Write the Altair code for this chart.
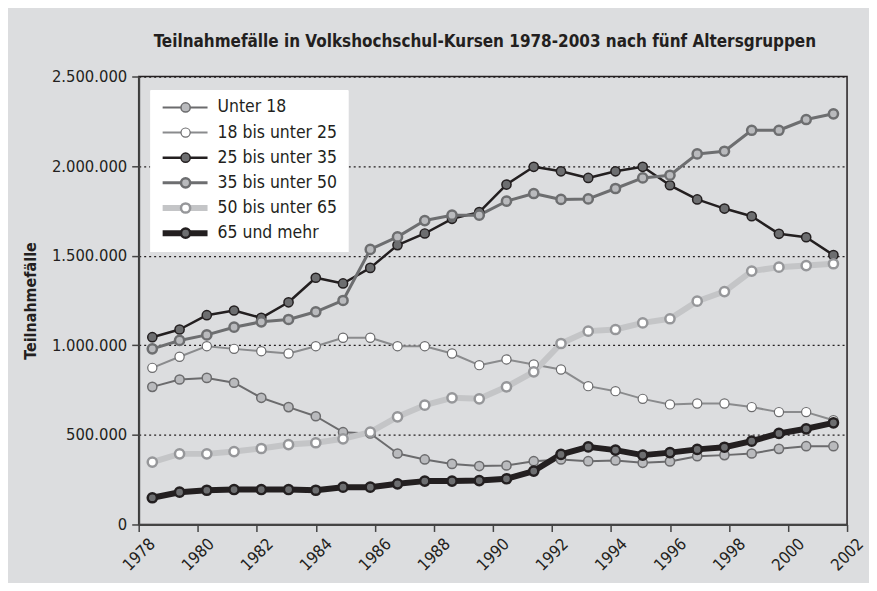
import altair as alt
import pandas as pd

# ---------------- data ----------------
years = list(range(1978, 2004))
series_names = ["Unter 18", "18 bis unter 25", "25 bis unter 35",
                "35 bis unter 50", "50 bis unter 65", "65 und mehr"]

unter_18 = [768000, 809000, 818000, 791000, 707000, 655000, 604000, 515000, 508000,
            396000, 363000, 338000, 326000, 329000, 353000, 363000, 353000, 357000,
            344000, 352000, 381000, 387000, 396000, 422000, 437000, 437000]
bis_25 = [874000, 936000, 995000, 980000, 967000, 954000, 995000, 1042000, 1042000,
          995000, 995000, 954000, 889000, 921000, 893000, 865000, 772000, 744000,
          701000, 670000, 675000, 675000, 655000, 627000, 627000, 582000]
bis_35 = [1045000, 1088000, 1168000, 1194000, 1153000, 1240000, 1377000, 1345000,
          1432000, 1559000, 1624000, 1706000, 1743000, 1897000, 1996000, 1971000,
          1934000, 1971000, 1996000, 1893000, 1814000, 1763000, 1720000, 1622000,
          1603000, 1503000]
bis_50 = [980000, 1027000, 1058000, 1101000, 1131000, 1144000, 1187000, 1250000,
          1535000, 1605000, 1696000, 1726000, 1726000, 1804000, 1847000, 1814000,
          1817000, 1875000, 1934000, 1949000, 2068000, 2083000, 2200000, 2200000,
          2260000, 2292000]
bis_65 = [348000, 394000, 394000, 407000, 424000, 446000, 456000, 478000, 515000,
          601000, 666000, 707000, 701000, 768000, 852000, 1010000, 1079000, 1088000,
          1125000, 1148000, 1246000, 1300000, 1414000, 1436000, 1445000, 1455000]
ab_65 = [149000, 180000, 191000, 195000, 195000, 195000, 191000, 208000, 208000,
         227000, 242000, 242000, 245000, 255000, 298000, 391000, 433000, 415000,
         387000, 401000, 419000, 431000, 465000, 508000, 534000, 567000]

series_values = [unter_18, bis_25, bis_35, bis_50, bis_65, ab_65]
x_tick_labels = list(range(1978, 2003, 2))
y_tick_values = [0, 500000, 1000000, 1500000, 2000000, 2500000]

title_text = "Teilnahmefälle in Volkshochschul-Kursen 1978-2003 nach fünf Altersgruppen"
y_title = "Teilnahmefälle"

# ---------------- styles ----------------
FONT = "Liberation Sans Narrow, DejaVu Sans Condensed, Arial Narrow, sans-serif"
INK = "#231f20"
BG = "#dcdddf"
line_colors = ["#6b6b6d", "#8a8b8d", INK, "#6d6e70", "#c4c5c7", INK]
line_widths = [2, 2, 2.5, 3, 6, 6]
pt_fill = ["#b9babd", "#ffffff", "#6d6e70", "#b9babd", "#ffffff", "#6d6e70"]
pt_stroke = ["#6b6b6d", "#6b6b6d", INK, "#6d6e70", "#96979a", INK]
pt_width = [1.5, 1.2, 1.5, 2.5, 2.5, 2.5]

df = pd.DataFrame(
    [{"Jahr": y, "Gruppe": n, "Wert": v}
     for n, arr in zip(series_names, series_values)
     for y, v in zip(years, arr)]
)
leg_df = pd.DataFrame({"Gruppe": series_names})
tick_df = pd.DataFrame({"Jahr": x_tick_labels})

def sc(rng):
    return alt.Scale(type="ordinal", domain=series_names, range=rng)

x_data = alt.X("Jahr:Q",
               scale=alt.Scale(domain=[years[0] - 0.5, years[-1] + 0.5], nice=False, zero=False),
               axis=None)
y_data = alt.Y("Wert:Q",
               scale=alt.Scale(domain=[y_tick_values[0], y_tick_values[-1]], nice=False),
               axis=alt.Axis(values=y_tick_values,
                             labelExpr="replace(format(datum.value, ','), regexp(',', 'g'), '.')",
                             title=y_title, grid=True, gridDash=[2, 3], gridColor=INK,
                             gridWidth=1.3, tickSize=7, tickColor="#444", tickWidth=1.5,
                             domainColor="#444", domainWidth=2,
                             labelFont=FONT, labelFontSize=16.5, labelColor=INK, labelPadding=5,
                             titleFont=FONT, titleFontSize=16, titleFontWeight="bold",
                             titleColor=INK, titlePadding=13))

base = alt.Chart(df)
lines = base.mark_line(strokeJoin="round").encode(
    x=x_data, y=y_data,
    stroke=alt.Stroke("Gruppe:N", scale=sc(line_colors), legend=None),
    strokeWidth=alt.StrokeWidth("Gruppe:N", scale=sc(line_widths), legend=None),
)
points = base.mark_point(shape="circle", size=85, opacity=1, fillOpacity=1).encode(
    x=x_data, y=y_data,
    fill=alt.Fill("Gruppe:N", scale=sc(pt_fill), legend=None),
    stroke=alt.Stroke("Gruppe:N", scale=sc(pt_stroke), legend=None),
    strokeWidth=alt.StrokeWidth("Gruppe:N", scale=sc(pt_width), legend=None),
)
main = alt.layer(lines, points).resolve_scale(stroke="independent", strokeWidth="independent")

xaxis = alt.Chart(tick_df).mark_point(opacity=0).encode(
    x=alt.X("Jahr:Q",
            scale=alt.Scale(domain=[x_tick_labels[0], x_tick_labels[-1]], nice=False, zero=False),
            axis=alt.Axis(values=x_tick_labels, format="d", labelAngle=-45, labelAlign="center",
                          labelBaseline="middle", labelPadding=23, tickSize=7, tickColor="#444",
                          tickWidth=1.5, domainColor="#444", domainWidth=2,
                          labelFont=FONT, labelFontSize=16.5, labelColor=INK, title=None,
                          grid=False, labelOverlap=False, labelFlush=False))
)

leg_y = alt.Y("Gruppe:N", scale=alt.Scale(type="point", domain=series_names, range=[31, 157], padding=0),
              axis=None)
leg_bg = alt.Chart(leg_df).mark_rect(fill="white").encode(
    x=alt.value(12), x2=alt.value(210), y=alt.value(14), y2=alt.value(176))
leg_lines = alt.Chart(leg_df).mark_rule().encode(
    x=alt.value(24), x2=alt.value(69), y=leg_y,
    stroke=alt.Stroke("Gruppe:N", scale=sc(line_colors), legend=None),
    strokeWidth=alt.StrokeWidth("Gruppe:N", scale=sc(line_widths), legend=None),
)
leg_points = alt.Chart(leg_df).mark_point(shape="circle", size=85, opacity=1, fillOpacity=1).encode(
    x=alt.value(47), y=leg_y,
    fill=alt.Fill("Gruppe:N", scale=sc(pt_fill), legend=None),
    stroke=alt.Stroke("Gruppe:N", scale=sc(pt_stroke), legend=None),
    strokeWidth=alt.StrokeWidth("Gruppe:N", scale=sc(pt_width), legend=None),
)
leg_text = alt.Chart(leg_df).mark_text(align="left", baseline="middle", font=FONT,
                                       fontSize=17.5, color=INK).encode(
    x=alt.value(79), y=leg_y, text="Gruppe:N")
legend = alt.layer(leg_bg, leg_lines, leg_points, leg_text).resolve_scale(
    stroke="independent", strokeWidth="independent")

chart = alt.layer(main, xaxis, legend).resolve_scale(
    x="independent", y="independent", stroke="independent", strokeWidth="independent"
).properties(
    width=710, height=449,
    title=alt.TitleParams(text=title_text, font=FONT, fontSize=17, fontWeight="bold",
                          anchor="middle", offset=18, color=INK, dx=-8),
    autosize=alt.AutoSizeParams(type="none"),
    padding={"left": 131, "top": 68, "right": 22, "bottom": 58},
    background=BG,
).configure_view(stroke=INK, strokeWidth=1.5)

chart.save("out.html", embed_options={"renderer": "svg", "actions": False})
